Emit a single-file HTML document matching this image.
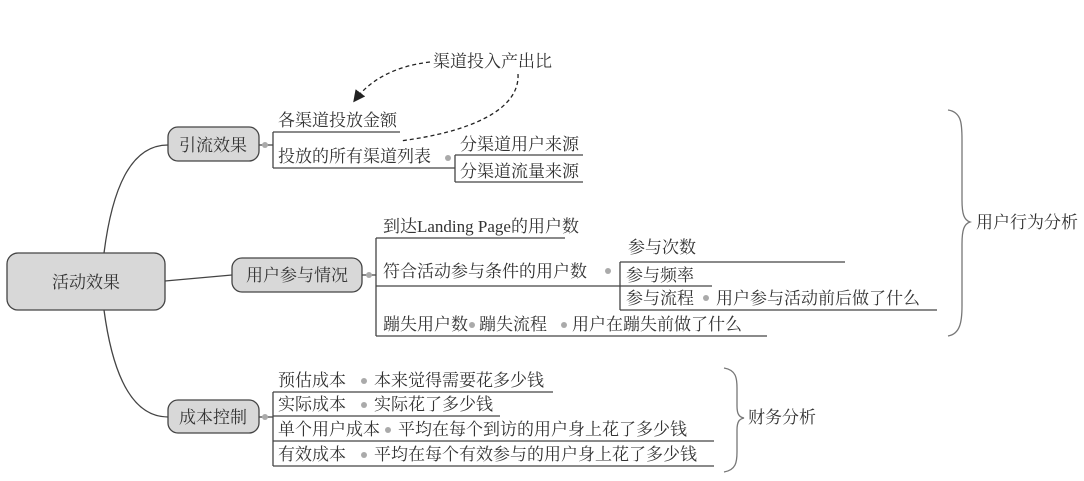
<!DOCTYPE html>
<html><head><meta charset="utf-8"><style>
html,body{margin:0;padding:0;background:#fff;}
svg text{font-family:"Liberation Serif","Noto Serif CJK SC","Noto Sans CJK SC",serif;font-size:17px;fill:#333;}
</style></head><body>
<svg width="1084" height="476" viewBox="0 0 1084 476" xmlns="http://www.w3.org/2000/svg">
<defs><marker id="ah" markerWidth="12" markerHeight="12" refX="9" refY="6" orient="auto" markerUnits="userSpaceOnUse"><path d="M0,0 L12,6 L0,12 z" fill="#222"/></marker></defs>
<g fill="none" stroke="#444" stroke-width="1.3">
<path d="M104,253 C112,190 130,145 168,145"/>
<path d="M104,310 C112,370 130,417 168,417"/>
<path d="M165,281 L232,275"/>
<rect x="7" y="253" width="158" height="57" rx="11" fill="#d8d8d8"/>
<rect x="168" y="127" width="91" height="34" rx="10" fill="#d8d8d8"/>
<rect x="232" y="258" width="130" height="34" rx="10" fill="#d8d8d8"/>
<rect x="168" y="400" width="91" height="33" rx="10" fill="#d8d8d8"/>
<path d="M259,145 L273,145 M273,132 L273,168 M273,132 L400,132 M273,168 L455,168 M455,155 L455,182 M455,155 L583,155 M455,182 L583,182"/>
<path d="M362,275 L376,275 M376,238 L376,336 M376,238 L565,238 M376,286 L620,286 M620,262 L620,310 M620,262 L845,262 M620,286 L712,286 M620,310 L937,310 M376,336 L767,336"/>
<path d="M259,417 L273,417 M273,392 L273,466 M273,392 L553,392 M273,416 L500,416 M273,441 L714,441 M273,466 L714,466"/>
<path d="M948,110 C962,112 962,125 962,140 L962,200 C962,214 964,220 970,222 C964,224 962,230 962,244 L962,306 C962,322 960,334 948,336" stroke="#777"/>
<path d="M724,368 C736,370 737,378 737,388 L737,406 C737,414 739,417 744,418 C739,419 737,422 737,430 L737,452 C737,462 736,470 724,472" stroke="#777"/>
<path d="M430,62 C395,66 370,80 355,100" stroke="#222" stroke-dasharray="4,3" marker-end="url(#ah)"/>
<path d="M518,74 C520,110 470,132 400,141" stroke="#222" stroke-dasharray="4,3"/>
</g>
<g fill="#aaa">
<circle cx="265" cy="145" r="3"/><circle cx="369" cy="275" r="3"/><circle cx="265" cy="417" r="3"/>
<circle cx="448" cy="158" r="3"/><circle cx="608" cy="271" r="3"/><circle cx="706" cy="298" r="3"/>
<circle cx="472" cy="325" r="3"/><circle cx="564" cy="325" r="3"/>
<circle cx="364" cy="381" r="3"/><circle cx="364" cy="405" r="3"/><circle cx="388" cy="430" r="3"/><circle cx="364" cy="455" r="3"/>
</g>
<text x="86" y="288" text-anchor="middle">活动效果</text>
<text x="213" y="151" text-anchor="middle">引流效果</text>
<text x="297" y="281" text-anchor="middle">用户参与情况</text>
<text x="213" y="423" text-anchor="middle">成本控制</text>
<text x="433" y="67">渠道投入产出比</text>
<text x="278" y="126">各渠道投放金额</text>
<text x="278" y="162">投放的所有渠道列表</text>
<text x="460" y="150">分渠道用户来源</text>
<text x="460" y="177">分渠道流量来源</text>
<text x="383" y="232">到达Landing Page的用户数</text>
<text x="383" y="277">符合活动参与条件的用户数</text>
<text x="628" y="253">参与次数</text>
<text x="626" y="281">参与频率</text>
<text x="626" y="304">参与流程</text>
<text x="716" y="304">用户参与活动前后做了什么</text>
<text x="383" y="330">蹦失用户数</text>
<text x="479" y="330">蹦失流程</text>
<text x="572" y="330">用户在蹦失前做了什么</text>
<text x="976" y="228">用户行为分析</text>
<text x="278" y="386">预估成本</text><text x="374" y="386">本来觉得需要花多少钱</text>
<text x="278" y="410">实际成本</text><text x="374" y="410">实际花了多少钱</text>
<text x="278" y="435">单个用户成本</text><text x="398" y="435">平均在每个到访的用户身上花了多少钱</text>
<text x="278" y="460">有效成本</text><text x="374" y="460">平均在每个有效参与的用户身上花了多少钱</text>
<text x="748" y="423">财务分析</text>
</svg>
</body></html>
